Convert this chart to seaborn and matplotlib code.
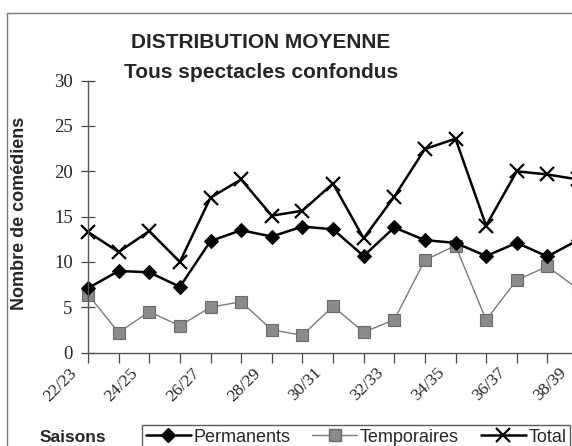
import matplotlib
matplotlib.use("Agg")
import matplotlib.pyplot as plt
import matplotlib.transforms as mtransforms
from matplotlib.lines import Line2D
from matplotlib.patches import Rectangle
import numpy as np
import pandas as pd
import seaborn as sns

# Seasons 1922/23 .. 1938/39
saisons = ["22/23", "23/24", "24/25", "25/26", "26/27", "27/28", "28/29", "29/30",
           "30/31", "31/32", "32/33", "33/34", "34/35", "35/36", "36/37", "37/38", "38/39"]
permanents = [7.1, 9.0, 8.85, 7.25, 12.3, 13.5, 12.8, 13.9, 13.6, 10.65, 13.8, 12.4,
              12.1, 10.65, 12.1, 10.6, 12.4]
temporaires = [6.4, 2.2, 4.5, 2.95, 5.0, 5.6, 2.5, 1.9, 5.1, 2.25, 3.6, 10.2,
               11.8, 3.6, 8.0, 9.5, 7.0]
total = [13.3, 11.1, 13.4, 10.0, 17.1, 19.1, 15.1, 15.65, 18.65, 12.6, 17.2, 22.45,
         23.6, 14.0, 20.0, 19.65, 19.1]
y_ticks = [0, 5, 10, 15, 20, 25, 30]

sns.set_theme(style="white")
plt.rcParams["font.family"] = ["Liberation Sans", "DejaVu Sans"]

W, H = 572, 446
fig = plt.figure(figsize=(W / 100, H / 100), dpi=100)
fig.patch.set_facecolor("white")

# outer frame of the chart area
fig.add_artist(Rectangle((7 / W, -0.1), 1.2, 1 - 13 / H + 0.1, transform=fig.transFigure,
                         fill=False, edgecolor="#777777", linewidth=1.0))

x0, x1 = 88, 578
yb, yt = 352.5, 80.7
ax = fig.add_axes([x0 / W, 1 - yb / H, (x1 - x0) / W, (yb - yt) / H])
ax.set_facecolor("none")

pos = np.arange(len(saisons))
df = pd.DataFrame({"pos": pos, "Permanents": permanents,
                   "Temporaires": temporaires, "Total": total})

sns.lineplot(data=df, x="pos", y="Temporaires", ax=ax, color="#7a7a7a", linewidth=1.0,
             marker="s", markersize=8, markerfacecolor="#8a8a8a",
             markeredgecolor="#6a6a6a", markeredgewidth=0.8, clip_on=False)
sns.lineplot(data=df, x="pos", y="Permanents", ax=ax, color="black", linewidth=1.8,
             marker="D", markersize=7, markerfacecolor="black",
             markeredgecolor="black", clip_on=False)
sns.lineplot(data=df, x="pos", y="Total", ax=ax, color="black", linewidth=1.8,
             marker="x", markersize=10, markeredgewidth=1.6,
             markeredgecolor="black", clip_on=False)

ax.set_xlim(0, len(saisons) - 1)
ax.set_ylim(0, 30)
for s in ["top", "right"]:
    ax.spines[s].set_visible(False)
ax.spines["left"].set_color("#555555")
ax.spines["bottom"].set_color("#555555")
ax.spines["left"].set_linewidth(1.0)
ax.spines["bottom"].set_linewidth(1.0)

ax.set_yticks(y_ticks)
ax.set_yticklabels([str(v) for v in y_ticks], fontfamily="Liberation Serif", fontsize=13.5)
ax.tick_params(axis="y", direction="inout", length=10, width=0.9, color="#444444",
               left=True, pad=6)

ax.set_xticks(pos)
ax.set_xticklabels([s if i % 2 == 0 else "" for i, s in enumerate(saisons)],
                   fontfamily="Liberation Serif", fontsize=12.5, rotation=45,
                   ha="right", rotation_mode="anchor")
ax.tick_params(axis="x", direction="out", length=7, width=0.9, color="#444444",
               bottom=True, pad=2)
shift = mtransforms.ScaledTranslation(-19 / 100, 0, fig.dpi_scale_trans)
for lbl in ax.get_xticklabels():
    lbl.set_transform(lbl.get_transform() + shift)
ax.set_xlabel("")
ax.set_ylabel("")

fig.text(20 / W, 1 - 213 / H, "Nombre de comédiens", rotation=90, ha="center",
         va="center", fontsize=13, fontweight="bold")
fig.text(261 / W, 1 - 42 / H, "DISTRIBUTION MOYENNE", ha="center", va="center",
         fontsize=15, fontweight="bold")
fig.text(261 / W, 1 - 73 / H, "Tous spectacles confondus", ha="center", va="center",
         fontsize=15, fontweight="bold")
fig.text(40 / W, 1 - 437 / H, "Saisons", ha="left", va="center",
         fontsize=12.5, fontweight="bold")

handles = [
    Line2D([], [], color="black", linewidth=1.8, marker="D", markersize=7),
    Line2D([], [], color="#7a7a7a", linewidth=1.0, marker="s", markersize=8,
           markerfacecolor="#8a8a8a", markeredgecolor="#6a6a6a"),
    Line2D([], [], color="black", linewidth=1.8, marker="x", markersize=10,
           markeredgewidth=1.6),
]
leg = fig.legend(handles, ["Permanents", "Temporaires", "Total"], ncol=3,
                 loc="upper left", bbox_to_anchor=(142 / W, 1 - 425 / H),
                 frameon=True, fancybox=False, fontsize=13, handlelength=2.5,
                 handletextpad=0.15, columnspacing=1.2, borderpad=0.2,
                 borderaxespad=0)
leg.get_frame().set_edgecolor("#333333")
leg.get_frame().set_linewidth(1.0)

fig.savefig("out.png", dpi=100)
